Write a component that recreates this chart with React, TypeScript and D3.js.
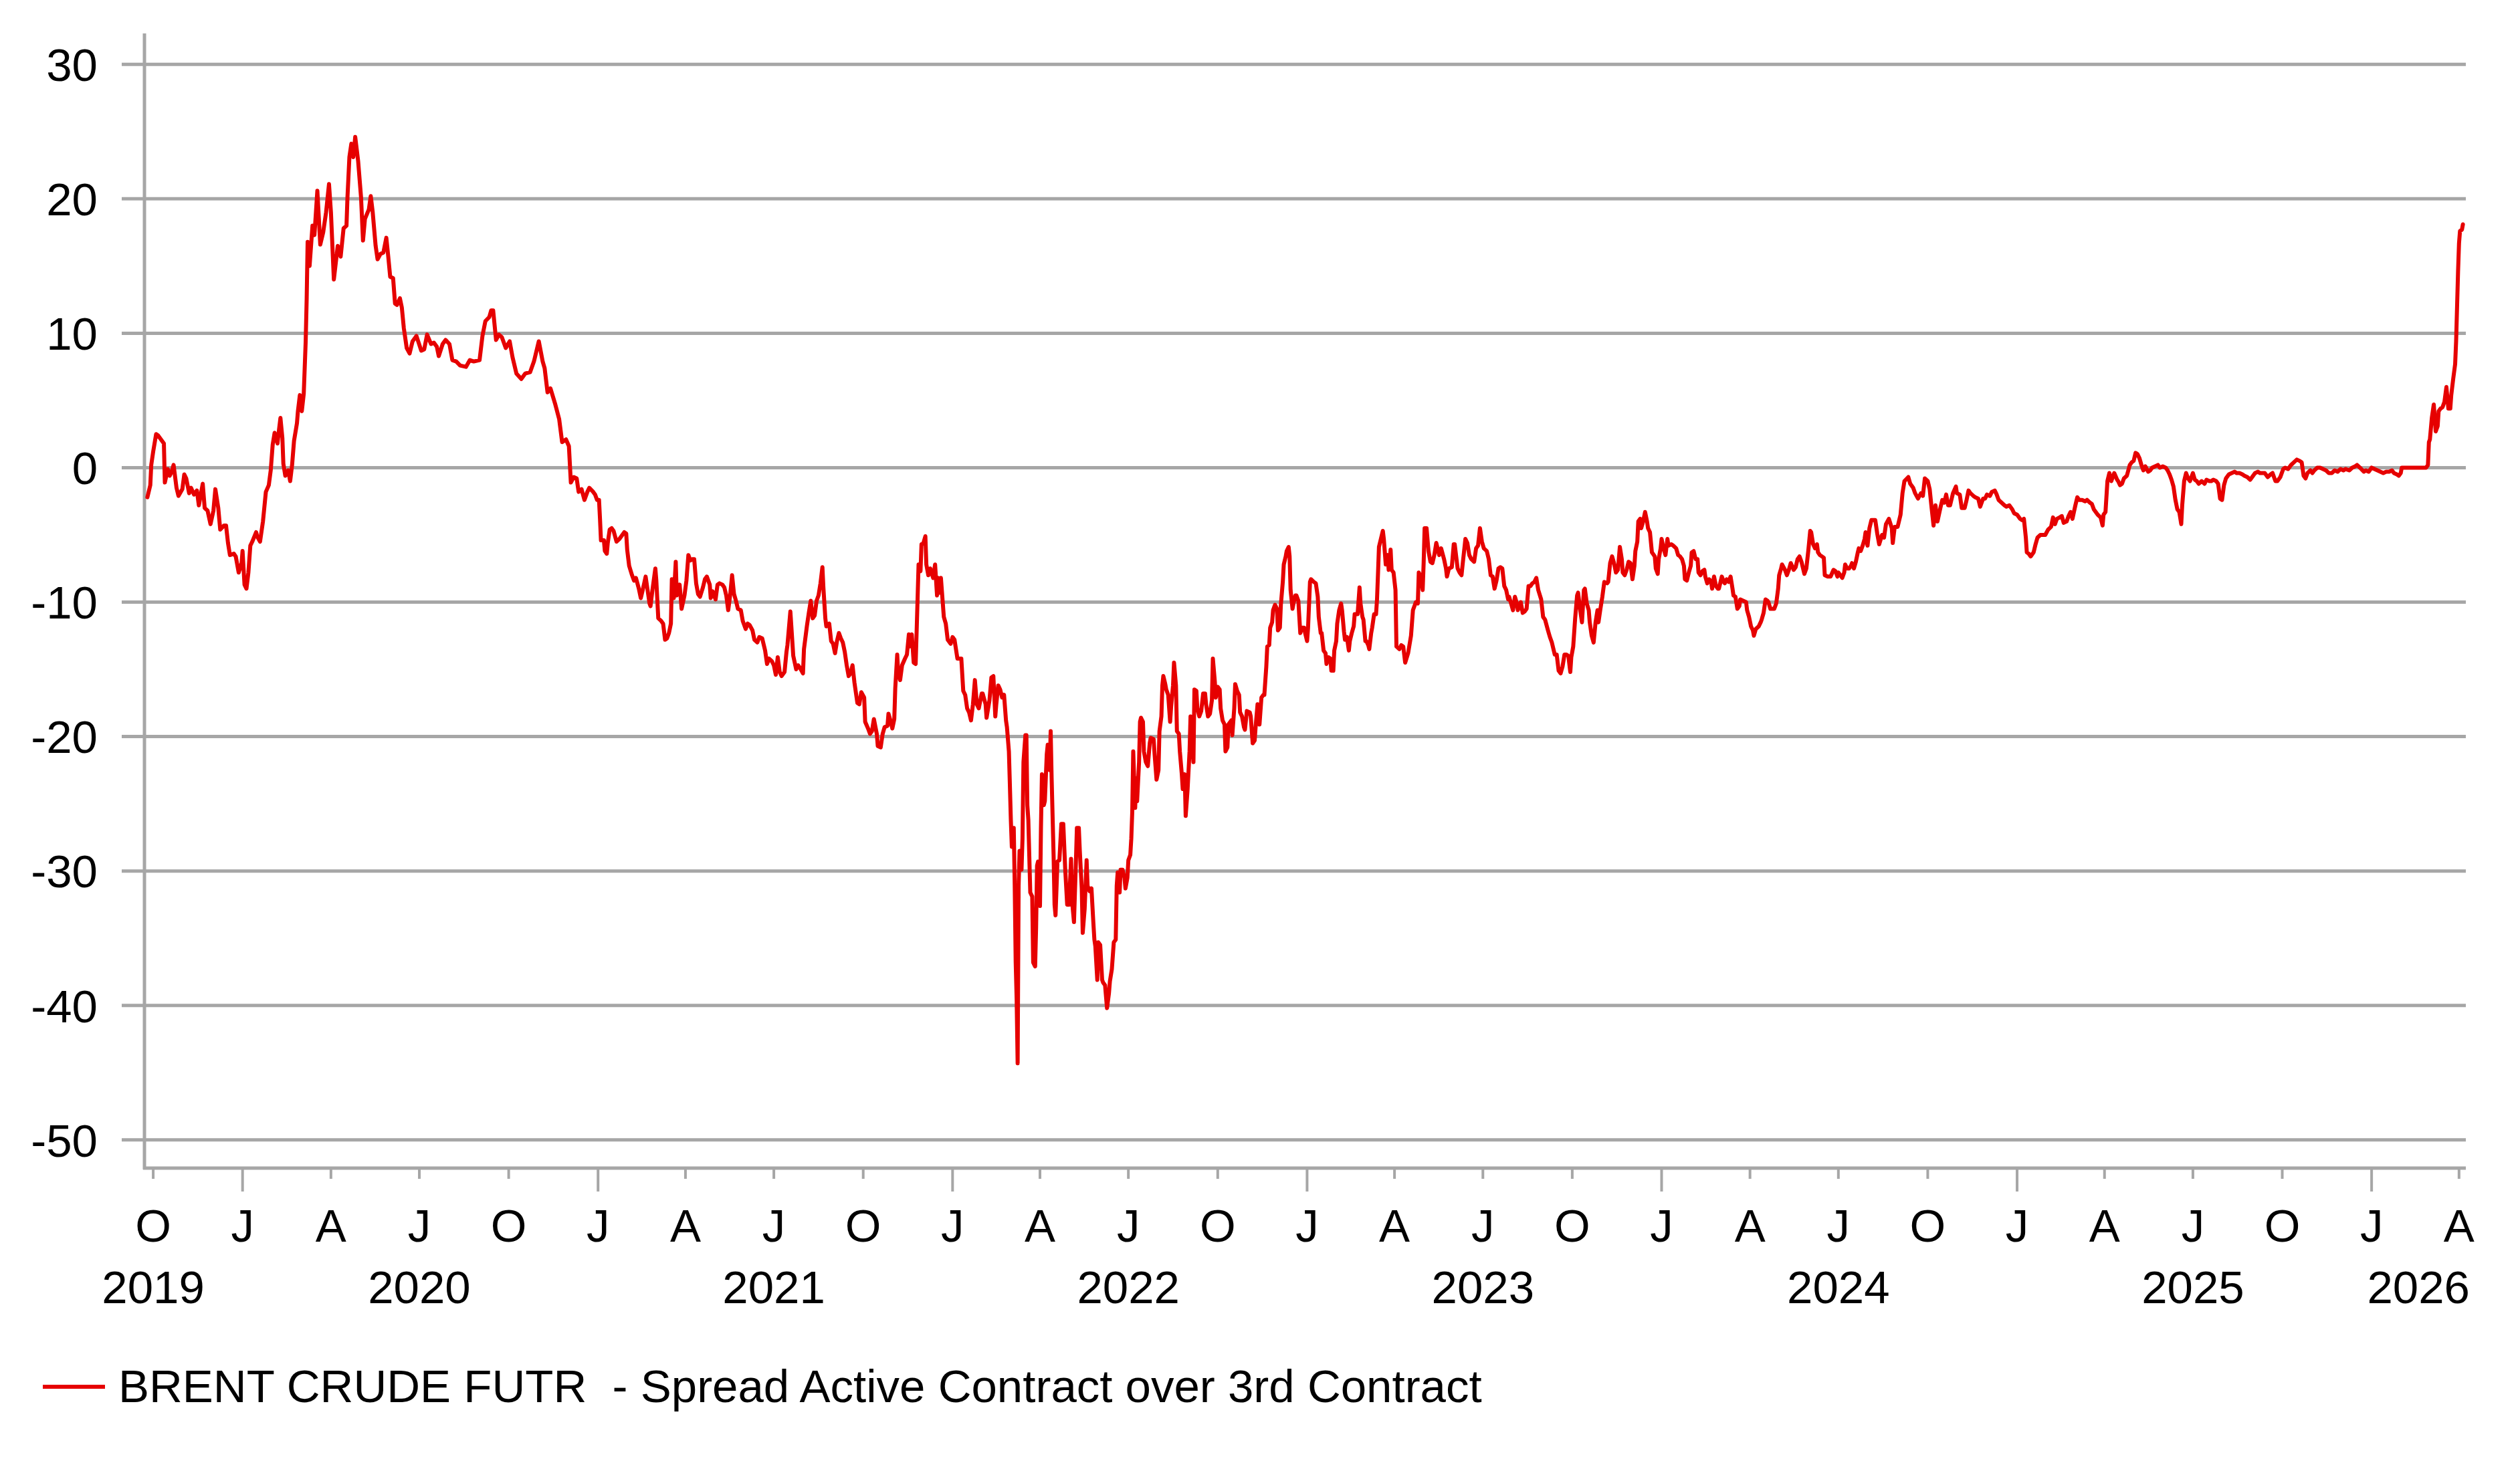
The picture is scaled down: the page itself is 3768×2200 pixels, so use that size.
import React from "react";
import * as d3 from "d3";

// ---- data ----
const xStart = "2019-09-22";
const xEnd = "2026-04-08";
const yMin = -52.1;
const yMax = 32.3;
const yTickValues = [-50, -40, -30, -20, -10, 0, 10, 20, 30];
const monthLetters = ["J", "F", "M", "A", "M", "J", "J", "A", "S", "O", "N", "D"];
const yearLabels = [2019, 2020, 2021, 2022, 2023, 2024, 2025, 2026];
const legendLabel = "BRENT CRUDE FUTR  - Spread Active Contract over 3rd Contract";

const spreadSeries: [string, number][] = [
["2019-09-25",-2.2],["2019-09-28",-1.3],["2019-09-29",0.2],["2019-10-01",1.2],["2019-10-04",2.5],["2019-10-06",2.4],["2019-10-10",2.0],["2019-10-12",1.8],["2019-10-13",-1.1],["2019-10-16",-0.1],["2019-10-18",-0.6],["2019-10-20",-0.3],["2019-10-22",0.2],["2019-10-25",-1.5],["2019-10-27",-2.1],["2019-10-31",-1.6],
["2019-11-02",-0.5],["2019-11-04",-0.8],["2019-11-07",-1.9],["2019-11-09",-1.5],["2019-11-12",-2.0],["2019-11-15",-1.7],["2019-11-17",-2.8],["2019-11-21",-1.2],["2019-11-23",-3.0],["2019-11-26",-3.2],["2019-11-29",-4.2],
["2019-12-02",-3.2],["2019-12-04",-1.6],["2019-12-07",-3.0],["2019-12-09",-4.6],["2019-12-13",-4.3],["2019-12-15",-4.3],["2019-12-17",-5.6],["2019-12-19",-6.5],["2019-12-23",-6.4],["2019-12-25",-6.6],["2019-12-28",-7.8],["2019-12-31",-7.1],
["2020-01-01",-6.2],["2020-01-03",-8.7],["2020-01-05",-9.0],["2020-01-07",-7.8],["2020-01-09",-5.8],["2020-01-11",-5.5],["2020-01-15",-4.8],["2020-01-16",-5.1],["2020-01-19",-5.5],["2020-01-22",-4.0],["2020-01-25",-1.8],["2020-01-28",-1.3],["2020-01-30",-0.2],
["2020-02-01",1.7],["2020-02-03",2.6],["2020-02-06",1.8],["2020-02-07",2.5],["2020-02-09",3.7],["2020-02-11",2.2],["2020-02-12",0.3],["2020-02-14",-0.6],["2020-02-17",-0.2],["2020-02-19",-1.0],["2020-02-21",0.2],["2020-02-23",2.0],["2020-02-26",3.3],["2020-02-27",4.2],["2020-02-29",5.4],
["2020-03-02",4.2],["2020-03-04",5.5],["2020-03-06",9.4],["2020-03-07",12.5],["2020-03-08",16.8],["2020-03-10",15.0],["2020-03-13",18.0],["2020-03-15",17.3],["2020-03-18",20.6],["2020-03-21",16.6],["2020-03-24",17.5],["2020-03-27",19.0],["2020-03-30",21.1],
["2020-04-01",19.0],["2020-04-04",14.0],["2020-04-08",16.5],["2020-04-11",15.7],["2020-04-14",17.8],["2020-04-17",18.0],["2020-04-18",20.1],["2020-04-20",23.1],["2020-04-22",24.1],["2020-04-24",23.1],["2020-04-26",24.6],["2020-04-29",22.8],
["2020-05-02",20.1],["2020-05-04",16.9],["2020-05-06",18.5],["2020-05-10",19.2],["2020-05-12",20.2],["2020-05-14",19.0],["2020-05-17",16.5],["2020-05-19",15.5],["2020-05-22",15.9],["2020-05-25",16.0],["2020-05-28",17.1],["2020-05-30",15.7],
["2020-06-01",14.2],["2020-06-04",14.1],["2020-06-06",12.2],["2020-06-08",12.1],["2020-06-11",12.6],["2020-06-13",11.9],["2020-06-15",10.4],["2020-06-18",8.9],["2020-06-21",8.5],["2020-06-24",9.4],["2020-06-28",9.8],
["2020-07-03",8.7],["2020-07-06",8.8],["2020-07-09",9.9],["2020-07-13",9.2],["2020-07-16",9.3],["2020-07-19",9.0],["2020-07-21",8.3],["2020-07-25",9.2],["2020-07-28",9.5],
["2020-08-01",9.2],["2020-08-04",8.0],["2020-08-08",7.9],["2020-08-12",7.6],["2020-08-18",7.5],["2020-08-22",8.0],["2020-08-26",7.9],
["2020-09-01",8.0],["2020-09-04",9.8],["2020-09-07",10.9],["2020-09-11",11.2],["2020-09-13",11.7],["2020-09-15",11.7],["2020-09-18",9.5],["2020-09-21",9.9],["2020-09-24",9.7],["2020-09-28",8.9],
["2020-10-02",9.4],["2020-10-05",8.2],["2020-10-09",7.0],["2020-10-14",6.6],["2020-10-18",7.0],["2020-10-23",7.1],["2020-10-27",7.9],
["2020-11-01",9.4],["2020-11-05",7.9],["2020-11-07",7.4],["2020-11-10",5.6],["2020-11-13",5.9],["2020-11-18",4.7],["2020-11-22",3.6],["2020-11-25",1.9],["2020-11-29",2.1],
["2020-12-02",1.6],["2020-12-04",-1.1],["2020-12-07",-0.7],["2020-12-10",-0.8],["2020-12-12",-1.8],["2020-12-15",-1.6],["2020-12-18",-2.4],["2020-12-21",-1.8],["2020-12-23",-1.5],["2020-12-27",-1.8],["2020-12-29",-2.0],["2020-12-31",-2.4],
["2021-01-02",-2.4],["2021-01-03",-3.8],["2021-01-04",-5.4],["2021-01-07",-5.4],["2021-01-08",-6.2],["2021-01-10",-6.4],["2021-01-11",-5.6],["2021-01-13",-4.6],["2021-01-15",-4.5],["2021-01-17",-4.7],["2021-01-20",-5.5],["2021-01-23",-5.3],["2021-01-25",-5.1],["2021-01-28",-4.8],["2021-01-30",-4.9],["2021-01-31",-6.1],
["2021-02-02",-7.3],["2021-02-05",-8.0],["2021-02-07",-8.4],["2021-02-09",-8.2],["2021-02-12",-9.0],["2021-02-14",-9.7],["2021-02-16",-9.1],["2021-02-19",-8.1],["2021-02-21",-9.1],["2021-02-23",-10.1],["2021-02-24",-10.3],["2021-02-26",-9.1],
["2021-03-01",-7.5],["2021-03-02",-8.4],["2021-03-04",-11.2],["2021-03-07",-11.4],["2021-03-09",-11.6],["2021-03-11",-12.8],["2021-03-13",-12.7],["2021-03-15",-12.3],["2021-03-17",-11.6],["2021-03-18",-8.3],["2021-03-20",-9.7],["2021-03-22",-7.0],["2021-03-23",-9.5],["2021-03-26",-8.7],["2021-03-28",-10.5],["2021-03-31",-9.5],
["2021-04-02",-8.4],["2021-04-04",-6.5],["2021-04-06",-6.9],["2021-04-08",-6.8],["2021-04-10",-6.8],["2021-04-12",-8.6],["2021-04-14",-9.4],["2021-04-16",-9.6],["2021-04-19",-8.9],["2021-04-21",-8.3],["2021-04-23",-8.1],["2021-04-26",-8.7],["2021-04-27",-9.7],["2021-04-29",-9.2],
["2021-05-02",-9.8],["2021-05-04",-8.7],["2021-05-06",-8.6],["2021-05-09",-8.7],["2021-05-11",-8.9],["2021-05-13",-9.5],["2021-05-15",-10.6],["2021-05-17",-9.5],["2021-05-19",-8.0],["2021-05-21",-9.4],["2021-05-23",-9.9],["2021-05-25",-10.5],["2021-05-28",-10.6],["2021-05-30",-11.4],
["2021-06-02",-12.0],["2021-06-04",-11.6],["2021-06-06",-11.7],["2021-06-09",-12.1],["2021-06-11",-12.8],["2021-06-14",-13.0],["2021-06-16",-12.6],["2021-06-19",-12.7],["2021-06-22",-13.6],["2021-06-24",-14.6],["2021-06-26",-14.2],["2021-06-29",-14.4],
["2021-07-01",-14.7],["2021-07-03",-15.4],["2021-07-05",-14.1],["2021-07-07",-15.2],["2021-07-09",-15.5],["2021-07-12",-15.2],["2021-07-14",-13.7],["2021-07-15",-13.2],["2021-07-18",-10.7],["2021-07-19",-11.8],["2021-07-21",-14.0],["2021-07-24",-15.0],["2021-07-26",-14.7],["2021-07-28",-14.9],["2021-07-31",-15.3],
["2021-08-01",-13.5],["2021-08-04",-11.8],["2021-08-06",-10.8],["2021-08-08",-9.9],["2021-08-10",-11.2],["2021-08-12",-11.0],["2021-08-14",-9.9],["2021-08-16",-9.5],["2021-08-18",-8.6],["2021-08-20",-7.4],["2021-08-21",-8.9],["2021-08-23",-11.2],["2021-08-24",-11.8],["2021-08-27",-11.6],["2021-08-29",-12.9],["2021-08-31",-13.1],
["2021-09-02",-13.8],["2021-09-04",-12.9],["2021-09-06",-12.3],["2021-09-08",-12.7],["2021-09-10",-13.0],["2021-09-12",-13.7],["2021-09-14",-14.7],["2021-09-16",-15.5],["2021-09-18",-15.3],["2021-09-20",-14.7],["2021-09-22",-16.0],["2021-09-25",-17.5],["2021-09-27",-17.6],["2021-09-29",-16.7],
["2021-10-02",-17.1],["2021-10-03",-18.9],["2021-10-06",-19.4],["2021-10-08",-19.8],["2021-10-10",-19.6],["2021-10-12",-18.7],["2021-10-15",-19.8],["2021-10-16",-20.7],["2021-10-19",-20.8],["2021-10-21",-19.8],["2021-10-23",-19.3],["2021-10-26",-19.2],["2021-10-27",-18.3],["2021-10-29",-18.8],["2021-10-31",-19.4],
["2021-11-02",-18.7],["2021-11-03",-16.4],["2021-11-05",-13.9],["2021-11-06",-15.2],["2021-11-08",-15.8],["2021-11-10",-14.7],["2021-11-13",-14.2],["2021-11-15",-13.9],["2021-11-17",-12.4],["2021-11-18",-13.3],["2021-11-20",-12.4],["2021-11-22",-14.5],["2021-11-24",-14.6],["2021-11-25",-12.2],["2021-11-27",-7.2],["2021-11-29",-7.7],["2021-11-30",-5.7],
["2021-12-02",-5.6],["2021-12-04",-5.1],["2021-12-05",-7.2],["2021-12-07",-8.0],["2021-12-09",-7.5],["2021-12-12",-8.2],["2021-12-14",-7.2],["2021-12-16",-9.5],["2021-12-17",-8.2],["2021-12-19",-9.3],["2021-12-20",-8.2],["2021-12-23",-11.1],["2021-12-25",-11.6],["2021-12-27",-12.8],["2021-12-30",-13.1],
["2022-01-01",-12.6],["2022-01-03",-12.8],["2022-01-06",-14.2],["2022-01-08",-14.2],["2022-01-10",-14.2],["2022-01-12",-16.6],["2022-01-14",-16.9],["2022-01-16",-17.9],["2022-01-18",-18.2],["2022-01-20",-18.8],["2022-01-22",-17.6],["2022-01-24",-15.8],["2022-01-26",-17.6],["2022-01-28",-17.9],["2022-01-31",-16.8],
["2022-02-01",-16.8],["2022-02-04",-17.6],["2022-02-05",-18.6],["2022-02-08",-17.3],["2022-02-10",-15.6],["2022-02-12",-15.5],["2022-02-14",-18.5],["2022-02-15",-17.6],["2022-02-17",-16.2],["2022-02-19",-16.5],["2022-02-21",-17.1],["2022-02-23",-16.9],["2022-02-25",-18.8],["2022-02-26",-19.3],["2022-02-28",-21.1],
["2022-03-01",-23.6],["2022-03-02",-26.2],["2022-03-03",-28.2],["2022-03-05",-26.8],["2022-03-06",-31.1],["2022-03-07",-36.8],["2022-03-08",-39.6],["2022-03-09",-44.3],["2022-03-10",-31.1],["2022-03-11",-28.5],["2022-03-13",-29.9],["2022-03-14",-27.6],["2022-03-15",-21.9],["2022-03-17",-19.9],["2022-03-18",-19.9],["2022-03-19",-25.1],["2022-03-20",-26.2],["2022-03-22",-31.6],["2022-03-24",-31.9],["2022-03-25",-36.8],["2022-03-27",-37.1],["2022-03-28",-34.2],["2022-03-29",-29.6],["2022-03-30",-29.3],
["2022-04-01",-32.6],["2022-04-02",-26.8],["2022-04-03",-22.8],["2022-04-05",-25.1],["2022-04-06",-24.8],["2022-04-08",-21.3],["2022-04-09",-20.6],["2022-04-11",-22.5],["2022-04-12",-19.6],["2022-04-13",-23.1],["2022-04-15",-28.8],["2022-04-16",-32.5],["2022-04-17",-33.3],["2022-04-19",-29.3],["2022-04-21",-29.2],["2022-04-23",-26.5],["2022-04-25",-26.5],["2022-04-27",-29.9],["2022-04-29",-32.5],
["2022-05-01",-32.5],["2022-05-03",-29.1],["2022-05-04",-32.2],["2022-05-06",-33.8],["2022-05-08",-29.3],["2022-05-09",-26.8],["2022-05-11",-26.8],["2022-05-12",-28.5],["2022-05-14",-31.3],["2022-05-15",-34.6],["2022-05-17",-32.8],["2022-05-19",-29.2],["2022-05-20",-31.1],["2022-05-22",-31.5],["2022-05-24",-31.3],["2022-05-26",-33.9],["2022-05-27",-35.1],["2022-05-28",-35.6],["2022-05-30",-38.1],["2022-05-31",-35.3],
["2022-06-02",-35.5],["2022-06-04",-38.1],["2022-06-05",-38.3],["2022-06-07",-38.5],["2022-06-09",-40.2],["2022-06-11",-39.1],["2022-06-12",-38.2],["2022-06-14",-37.3],["2022-06-16",-35.3],["2022-06-18",-35.1],["2022-06-19",-31.1],["2022-06-20",-30.1],["2022-06-22",-31.6],["2022-06-23",-29.9],["2022-06-25",-29.9],["2022-06-27",-30.5],["2022-06-28",-31.3],["2022-06-30",-30.5],
["2022-07-01",-29.2],["2022-07-03",-28.8],["2022-07-04",-27.6],["2022-07-05",-25.6],["2022-07-06",-21.1],["2022-07-08",-25.3],["2022-07-09",-23.1],["2022-07-10",-24.8],["2022-07-12",-21.9],["2022-07-13",-18.9],["2022-07-14",-18.6],["2022-07-16",-18.9],["2022-07-17",-21.1],["2022-07-19",-21.9],["2022-07-21",-22.2],["2022-07-23",-20.5],["2022-07-24",-20.1],["2022-07-27",-20.2],["2022-07-28",-21.3],["2022-07-30",-23.2],
["2022-08-01",-22.5],["2022-08-02",-19.6],["2022-08-04",-18.5],["2022-08-05",-16.2],["2022-08-06",-15.5],["2022-08-08",-16.1],["2022-08-09",-16.5],["2022-08-11",-16.9],["2022-08-13",-18.9],["2022-08-14",-17.8],["2022-08-16",-16.2],["2022-08-17",-14.5],["2022-08-19",-16.2],["2022-08-20",-19.6],["2022-08-22",-19.8],["2022-08-23",-21.1],["2022-08-25",-22.8],["2022-08-26",-23.9],["2022-08-28",-22.8],["2022-08-29",-25.9],["2022-08-31",-23.9],
["2022-09-02",-21.1],["2022-09-03",-18.5],["2022-09-05",-20.8],["2022-09-06",-21.9],["2022-09-07",-16.5],["2022-09-09",-16.6],["2022-09-10",-17.9],["2022-09-12",-18.5],["2022-09-14",-18.1],["2022-09-16",-16.8],["2022-09-18",-16.8],["2022-09-19",-17.6],["2022-09-21",-18.5],["2022-09-23",-18.3],["2022-09-25",-17.3],["2022-09-26",-14.2],["2022-09-28",-15.9],["2022-09-29",-17.1],
["2022-10-01",-16.3],["2022-10-03",-16.5],["2022-10-04",-17.9],["2022-10-06",-18.8],["2022-10-08",-19.1],["2022-10-09",-21.1],["2022-10-11",-20.8],["2022-10-12",-19.1],["2022-10-15",-18.8],["2022-10-16",-19.9],["2022-10-18",-17.9],["2022-10-19",-16.1],["2022-10-21",-16.6],["2022-10-23",-16.9],["2022-10-24",-18.2],["2022-10-26",-18.5],["2022-10-28",-19.3],["2022-10-29",-19.5],["2022-10-31",-18.1],
["2022-11-03",-18.2],["2022-11-04",-18.5],["2022-11-06",-20.5],["2022-11-08",-20.3],["2022-11-09",-19.3],["2022-11-11",-17.6],["2022-11-12",-17.8],["2022-11-13",-19.1],["2022-11-15",-17.1],["2022-11-17",-16.9],["2022-11-18",-16.9],["2022-11-20",-14.8],["2022-11-21",-13.3],["2022-11-23",-13.2],["2022-11-24",-11.9],["2022-11-26",-11.5],["2022-11-27",-10.6],["2022-11-29",-10.2],
["2022-12-01",-10.5],["2022-12-02",-12.1],["2022-12-04",-11.9],["2022-12-05",-10.2],["2022-12-07",-8.5],["2022-12-08",-7.2],["2022-12-10",-6.6],["2022-12-11",-6.2],["2022-12-13",-5.9],["2022-12-14",-6.6],["2022-12-15",-9.1],["2022-12-17",-10.5],["2022-12-18",-10.1],["2022-12-20",-9.5],["2022-12-21",-9.5],["2022-12-23",-9.9],["2022-12-24",-11.1],["2022-12-25",-12.3],["2022-12-27",-11.9],["2022-12-29",-11.9],["2022-12-30",-12.3],
["2023-01-01",-12.9],["2023-01-02",-11.9],["2023-01-04",-8.5],["2023-01-05",-8.3],["2023-01-08",-8.5],["2023-01-10",-8.6],["2023-01-12",-9.6],["2023-01-13",-11.1],["2023-01-15",-12.3],["2023-01-16",-12.3],["2023-01-18",-13.6],["2023-01-20",-13.8],["2023-01-21",-14.6],["2023-01-23",-14.1],["2023-01-25",-14.2],["2023-01-26",-15.1],["2023-01-28",-15.1],["2023-01-29",-13.6],["2023-01-31",-12.9],
["2023-02-01",-11.6],["2023-02-03",-10.6],["2023-02-05",-10.1],["2023-02-06",-10.6],["2023-02-08",-12.2],["2023-02-09",-12.8],["2023-02-11",-12.6],["2023-02-13",-13.6],["2023-02-14",-12.9],["2023-02-16",-12.3],["2023-02-18",-11.8],["2023-02-19",-10.9],["2023-02-22",-10.9],["2023-02-24",-8.9],["2023-02-25",-10.1],["2023-02-27",-11.1],["2023-02-28",-11.3],
["2023-03-02",-12.9],["2023-03-03",-12.9],["2023-03-05",-13.2],["2023-03-06",-13.5],["2023-03-08",-12.3],["2023-03-09",-11.9],["2023-03-11",-10.9],["2023-03-13",-10.9],["2023-03-14",-9.8],["2023-03-15",-7.9],["2023-03-16",-5.9],["2023-03-18",-5.3],["2023-03-20",-4.7],["2023-03-21",-5.3],["2023-03-23",-7.2],["2023-03-25",-6.5],["2023-03-26",-7.6],["2023-03-28",-6.1],["2023-03-29",-7.6],["2023-03-31",-7.8],
["2023-04-02",-9.1],["2023-04-03",-13.3],["2023-04-06",-13.5],["2023-04-08",-13.2],["2023-04-10",-13.3],["2023-04-12",-14.5],["2023-04-15",-13.8],["2023-04-18",-12.5],["2023-04-20",-10.6],["2023-04-23",-10.0],["2023-04-25",-10.1],["2023-04-26",-7.8],["2023-04-28",-8.1],["2023-04-30",-9.1],
["2023-05-01",-7.1],["2023-05-02",-4.5],["2023-05-04",-4.5],["2023-05-06",-6.2],["2023-05-08",-7.0],["2023-05-10",-7.1],["2023-05-12",-6.5],["2023-05-14",-5.6],["2023-05-17",-6.5],["2023-05-19",-6.0],["2023-05-22",-6.8],["2023-05-24",-7.5],["2023-05-25",-8.1],["2023-05-27",-7.5],["2023-05-30",-7.4],
["2023-06-01",-5.7],["2023-06-02",-5.7],["2023-06-05",-7.5],["2023-06-07",-7.8],["2023-06-09",-8.0],["2023-06-10",-7.3],["2023-06-13",-5.3],["2023-06-15",-5.6],["2023-06-17",-6.5],["2023-06-19",-6.8],["2023-06-22",-7.0],["2023-06-24",-6.0],["2023-06-26",-5.8],["2023-06-28",-4.5],["2023-06-30",-5.5],
["2023-07-02",-6.0],["2023-07-05",-6.2],["2023-07-07",-6.8],["2023-07-09",-8.0],["2023-07-11",-8.1],["2023-07-13",-9.0],["2023-07-15",-8.4],["2023-07-17",-7.5],["2023-07-19",-7.4],["2023-07-21",-7.5],["2023-07-23",-8.8],["2023-07-25",-9.1],["2023-07-27",-9.8],["2023-07-28",-9.6],["2023-07-30",-10.1],
["2023-08-01",-10.6],["2023-08-03",-9.6],["2023-08-05",-10.1],["2023-08-06",-10.6],["2023-08-09",-10.0],["2023-08-11",-10.8],["2023-08-13",-10.7],["2023-08-15",-10.5],["2023-08-17",-8.8],["2023-08-19",-8.8],["2023-08-21",-8.6],["2023-08-23",-8.5],["2023-08-25",-8.2],["2023-08-27",-9.1],["2023-08-30",-9.8],
["2023-09-01",-11.1],["2023-09-03",-11.3],["2023-09-06",-12.1],["2023-09-08",-12.6],["2023-09-10",-13.0],["2023-09-13",-13.9],["2023-09-15",-13.9],["2023-09-17",-15.1],["2023-09-19",-15.3],["2023-09-21",-14.8],["2023-09-23",-13.9],["2023-09-25",-13.9],["2023-09-27",-14.0],["2023-09-29",-15.2],["2023-09-30",-14.1],
["2023-10-02",-13.3],["2023-10-04",-11.2],["2023-10-06",-9.5],["2023-10-07",-9.3],["2023-10-09",-10.5],["2023-10-11",-11.5],["2023-10-13",-9.1],["2023-10-14",-9.0],["2023-10-16",-10.1],["2023-10-18",-10.6],["2023-10-19",-11.5],["2023-10-21",-12.5],["2023-10-23",-13.0],["2023-10-25",-11.5],["2023-10-27",-10.6],["2023-10-28",-11.5],["2023-10-30",-10.5],
["2023-11-01",-9.6],["2023-11-03",-8.5],["2023-11-06",-8.6],["2023-11-07",-8.5],["2023-11-09",-7.1],["2023-11-11",-6.6],["2023-11-13",-7.1],["2023-11-15",-7.8],["2023-11-17",-7.6],["2023-11-19",-5.9],["2023-11-21",-6.8],["2023-11-22",-7.8],["2023-11-24",-8.0],["2023-11-26",-7.6],["2023-11-28",-7.0],["2023-11-30",-7.1],
["2023-12-02",-8.3],["2023-12-04",-7.3],["2023-12-05",-6.2],["2023-12-07",-5.5],["2023-12-08",-4.0],["2023-12-10",-3.8],["2023-12-11",-4.5],["2023-12-13",-4.0],["2023-12-15",-3.3],["2023-12-17",-4.0],["2023-12-18",-4.5],["2023-12-20",-4.8],["2023-12-22",-6.3],["2023-12-25",-6.6],["2023-12-26",-7.5],["2023-12-28",-7.9],["2023-12-29",-6.8],["2023-12-31",-6.0],
["2024-01-01",-5.3],["2024-01-03",-6.0],["2024-01-05",-6.5],["2024-01-07",-5.3],["2024-01-08",-5.8],["2024-01-11",-5.7],["2024-01-13",-5.8],["2024-01-16",-6.0],["2024-01-18",-6.5],["2024-01-20",-6.6],["2024-01-22",-6.8],["2024-01-24",-7.3],["2024-01-25",-8.3],["2024-01-27",-8.4],["2024-01-29",-7.8],["2024-01-31",-7.3],
["2024-02-01",-6.3],["2024-02-03",-6.2],["2024-02-05",-6.8],["2024-02-07",-6.8],["2024-02-08",-7.8],["2024-02-10",-8.0],["2024-02-12",-7.7],["2024-02-14",-7.6],["2024-02-15",-8.1],["2024-02-17",-8.6],["2024-02-19",-8.3],["2024-02-21",-8.5],["2024-02-22",-9.0],["2024-02-24",-8.1],["2024-02-26",-8.8],["2024-02-28",-9.0],["2024-02-29",-9.0],
["2024-03-03",-8.1],["2024-03-05",-8.5],["2024-03-06",-8.6],["2024-03-08",-8.3],["2024-03-10",-8.5],["2024-03-12",-8.1],["2024-03-14",-9.0],["2024-03-15",-9.5],["2024-03-17",-9.6],["2024-03-19",-10.5],["2024-03-21",-10.3],["2024-03-22",-9.8],["2024-03-25",-9.9],["2024-03-28",-10.0],["2024-03-29",-10.6],["2024-03-31",-11.1],
["2024-04-02",-11.8],["2024-04-04",-12.1],["2024-04-05",-12.5],["2024-04-07",-12.0],["2024-04-10",-11.8],["2024-04-12",-11.5],["2024-04-13",-11.3],["2024-04-15",-10.8],["2024-04-17",-9.8],["2024-04-19",-9.9],["2024-04-20",-10.0],["2024-04-22",-10.5],["2024-04-24",-10.5],["2024-04-26",-10.5],["2024-04-28",-10.1],["2024-04-30",-9.0],
["2024-05-01",-8.0],["2024-05-03",-7.5],["2024-05-04",-7.2],["2024-05-07",-7.6],["2024-05-09",-8.0],["2024-05-11",-7.6],["2024-05-13",-7.1],["2024-05-16",-7.6],["2024-05-18",-7.4],["2024-05-20",-6.8],["2024-05-22",-6.6],["2024-05-24",-7.0],["2024-05-26",-7.6],["2024-05-27",-7.9],["2024-05-29",-7.5],["2024-05-31",-6.2],
["2024-06-02",-4.7],["2024-06-03",-4.8],["2024-06-05",-5.7],["2024-06-07",-6.0],["2024-06-09",-5.7],["2024-06-10",-6.3],["2024-06-12",-6.5],["2024-06-14",-6.6],["2024-06-16",-6.7],["2024-06-17",-8.0],["2024-06-20",-8.1],["2024-06-23",-8.1],["2024-06-26",-7.6],["2024-06-28",-7.7],["2024-06-30",-8.1],
["2024-07-01",-7.8],["2024-07-03",-8.0],["2024-07-05",-8.2],["2024-07-07",-7.8],["2024-07-08",-7.2],["2024-07-10",-7.5],["2024-07-12",-7.5],["2024-07-14",-7.3],["2024-07-15",-7.1],["2024-07-17",-7.5],["2024-07-19",-7.0],["2024-07-21",-6.3],["2024-07-22",-6.0],["2024-07-24",-6.2],["2024-07-26",-5.8],["2024-07-28",-5.3],["2024-07-29",-4.8],["2024-07-31",-5.8],
["2024-08-02",-4.5],["2024-08-04",-3.9],["2024-08-06",-3.9],["2024-08-08",-3.9],["2024-08-10",-4.9],["2024-08-12",-5.7],["2024-08-15",-5.0],["2024-08-17",-5.2],["2024-08-19",-4.2],["2024-08-22",-3.8],["2024-08-25",-4.5],["2024-08-26",-5.6],["2024-08-28",-4.4],["2024-08-31",-4.4],
["2024-09-03",-3.5],["2024-09-05",-1.9],["2024-09-07",-1.0],["2024-09-11",-0.7],["2024-09-13",-1.2],["2024-09-16",-1.5],["2024-09-18",-1.9],["2024-09-21",-2.3],["2024-09-24",-1.9],["2024-09-26",-2.1],["2024-09-28",-0.8],
["2024-10-01",-1.0],["2024-10-03",-1.6],["2024-10-05",-3.0],["2024-10-07",-4.3],["2024-10-09",-2.8],["2024-10-11",-4.0],["2024-10-14",-3.0],["2024-10-16",-2.4],["2024-10-18",-2.6],["2024-10-20",-2.0],["2024-10-22",-2.8],["2024-10-24",-2.8],["2024-10-27",-1.9],["2024-10-30",-1.4],["2024-10-31",-1.9],
["2024-11-03",-2.0],["2024-11-05",-3.0],["2024-11-08",-3.0],["2024-11-10",-2.4],["2024-11-12",-1.7],["2024-11-14",-1.9],["2024-11-17",-2.1],["2024-11-19",-2.2],["2024-11-22",-2.3],["2024-11-24",-2.9],["2024-11-27",-2.3],["2024-11-29",-2.3],
["2024-12-01",-2.0],["2024-12-04",-2.1],["2024-12-06",-1.8],["2024-12-09",-1.7],["2024-12-11",-2.0],["2024-12-13",-2.4],["2024-12-16",-2.6],["2024-12-19",-2.8],["2024-12-21",-2.9],["2024-12-24",-2.8],["2024-12-27",-3.1],["2024-12-29",-3.4],
["2025-01-01",-3.5],["2025-01-04",-3.8],["2025-01-06",-3.9],["2025-01-08",-3.8],["2025-01-10",-5.2],["2025-01-11",-6.3],["2025-01-13",-6.4],["2025-01-15",-6.6],["2025-01-18",-6.3],["2025-01-20",-5.7],["2025-01-22",-5.2],["2025-01-25",-5.0],["2025-01-28",-5.0],["2025-01-30",-5.0],
["2025-02-02",-4.6],["2025-02-05",-4.4],["2025-02-07",-3.7],["2025-02-09",-4.2],["2025-02-11",-3.8],["2025-02-14",-3.7],["2025-02-16",-3.6],["2025-02-18",-4.1],["2025-02-21",-4.0],["2025-02-23",-3.6],["2025-02-25",-3.3],["2025-02-27",-3.8],
["2025-03-02",-2.8],["2025-03-04",-2.2],["2025-03-06",-2.4],["2025-03-09",-2.4],["2025-03-12",-2.5],["2025-03-14",-2.4],["2025-03-17",-2.6],["2025-03-19",-2.7],["2025-03-21",-3.1],["2025-03-23",-3.3],["2025-03-25",-3.5],["2025-03-28",-3.7],["2025-03-30",-4.3],["2025-03-31",-3.5],
["2025-04-02",-3.3],["2025-04-04",-1.0],["2025-04-06",-0.4],["2025-04-08",-1.0],["2025-04-11",-0.4],["2025-04-14",-0.9],["2025-04-15",-1.0],["2025-04-17",-1.3],["2025-04-19",-1.2],["2025-04-21",-0.8],["2025-04-24",-0.6],["2025-04-27",0.2],["2025-04-29",0.4],
["2025-05-01",0.5],["2025-05-03",1.1],["2025-05-05",1.0],["2025-05-07",0.7],["2025-05-09",0.2],["2025-05-11",-0.2],["2025-05-13",0.1],["2025-05-16",-0.3],["2025-05-18",-0.2],["2025-05-20",0.0],["2025-05-23",0.1],["2025-05-26",0.2],["2025-05-28",0.0],["2025-05-31",0.1],
["2025-06-03",0.0],["2025-06-05",-0.2],["2025-06-07",-0.5],["2025-06-09",-0.9],["2025-06-11",-1.4],["2025-06-13",-2.4],["2025-06-15",-3.1],["2025-06-17",-3.3],["2025-06-19",-4.2],["2025-06-20",-2.8],["2025-06-22",-1.0],["2025-06-24",-0.4],["2025-06-26",-0.8],["2025-06-28",-1.0],
["2025-07-01",-0.4],["2025-07-03",-0.9],["2025-07-05",-1.0],["2025-07-07",-1.2],["2025-07-10",-1.0],["2025-07-13",-1.2],["2025-07-15",-0.9],["2025-07-18",-1.0],["2025-07-20",-1.0],["2025-07-22",-0.9],["2025-07-25",-1.0],["2025-07-27",-1.2],["2025-07-29",-2.3],["2025-07-31",-2.4],
["2025-08-02",-1.3],["2025-08-04",-0.8],["2025-08-07",-0.5],["2025-08-10",-0.4],["2025-08-13",-0.3],["2025-08-15",-0.4],["2025-08-18",-0.4],["2025-08-21",-0.5],["2025-08-23",-0.6],["2025-08-26",-0.7],["2025-08-29",-0.9],["2025-08-31",-0.7],
["2025-09-03",-0.4],["2025-09-06",-0.3],["2025-09-08",-0.4],["2025-09-11",-0.4],["2025-09-13",-0.4],["2025-09-16",-0.7],["2025-09-19",-0.5],["2025-09-21",-0.4],["2025-09-24",-1.0],["2025-09-26",-1.0],["2025-09-29",-0.7],
["2025-10-02",-0.1],["2025-10-04",0.0],["2025-10-07",-0.1],["2025-10-10",0.2],["2025-10-13",0.4],["2025-10-16",0.6],["2025-10-19",0.5],["2025-10-21",0.4],["2025-10-23",-0.6],["2025-10-25",-0.8],["2025-10-27",-0.4],["2025-10-30",-0.2],
["2025-11-01",-0.4],["2025-11-03",-0.2],["2025-11-06",0.0],["2025-11-09",0.0],["2025-11-12",-0.1],["2025-11-15",-0.2],["2025-11-18",-0.4],["2025-11-21",-0.4],["2025-11-24",-0.2],["2025-11-27",-0.3],["2025-11-30",-0.1],
["2025-12-03",-0.2],["2025-12-05",-0.1],["2025-12-09",-0.2],["2025-12-12",0.0],["2025-12-15",0.1],["2025-12-17",0.2],["2025-12-20",0.0],["2025-12-24",-0.3],["2025-12-26",-0.2],["2025-12-29",-0.3],
["2026-01-01",0.0],["2026-01-04",-0.1],["2026-01-07",-0.2],["2026-01-10",-0.3],["2026-01-13",-0.4],["2026-01-16",-0.3],["2026-01-19",-0.3],["2026-01-22",-0.2],["2026-01-24",-0.4],["2026-01-27",-0.5],["2026-01-29",-0.6],["2026-01-31",-0.4],
["2026-02-01",0.0],["2026-02-10",0.0],["2026-02-18",0.0],["2026-02-26",0.0],["2026-02-28",0.2],
["2026-03-01",1.9],["2026-03-02",2.1],["2026-03-04",3.7],["2026-03-06",4.7],["2026-03-08",2.7],["2026-03-10",3.1],["2026-03-11",4.2],["2026-03-13",4.4],["2026-03-15",4.5],["2026-03-17",4.9],["2026-03-19",6.0],["2026-03-21",4.4],["2026-03-23",4.4],["2026-03-24",5.4],["2026-03-26",6.6],["2026-03-28",7.7],["2026-03-29",9.4],["2026-03-30",12.0],["2026-03-31",14.6],
["2026-04-01",16.7],["2026-04-02",17.6],["2026-04-04",17.7],["2026-04-05",18.1]
];

// ---- layout / style ----
const W = 3768;
const H = 2200;
const plotLeft = 216;
const plotRight = 3687;
const plotTop = 50;
const plotBottom = 1747;
const gridLeft = 182;
const gridColor = "#A6A6A6";
const lineColor = "#E60000";
const font = "'Liberation Sans', Arial, Helvetica, sans-serif";
const fontSize = 69;

export default function App() {
  const parse = d3.timeParse("%Y-%m-%d");
  const data = spreadSeries.map(([d, v]) => ({ date: parse(d) as Date, value: v }));

  const x = d3.scaleTime().domain([parse(xStart) as Date, parse(xEnd) as Date]).range([plotLeft, plotRight]);
  const y = d3.scaleLinear().domain([yMin, yMax]).range([plotBottom, plotTop]);

  const path = d3
    .line<{ date: Date; value: number }>()
    .x((d) => x(d.date))
    .y((d) => y(d.value))(data) as string;

  const quarterTicks = d3.timeMonth.every(3)!.range(x.domain()[0], x.domain()[1]);

  const yearPos = yearLabels.map((yr, i) => {
    if (i === 0) {
      return { yr, x: x(quarterTicks[0]), anchor: "middle" };
    }
    if (i === yearLabels.length - 1) {
      return { yr, x: plotRight + 6, anchor: "end" };
    }
    return { yr, x: x(new Date(yr, 6, 1)), anchor: "middle" };
  });

  return (
    <div style={{ position: "absolute", left: 0, top: 0, width: W, height: H, background: "#fff" }}>
      <svg width={W} height={H} viewBox={`0 0 ${W} ${H}`} style={{ display: "block" }} fontFamily={font}>
        <rect x={0} y={0} width={W} height={H} fill="#fff" />
        {yTickValues.map((v) => (
          <line key={"g" + v} x1={gridLeft} x2={plotRight} y1={y(v)} y2={y(v)} stroke={gridColor} strokeWidth={5} />
        ))}
        <line x1={plotLeft} x2={plotLeft} y1={plotTop} y2={plotBottom + 2} stroke={gridColor} strokeWidth={5} />
        <line x1={plotLeft - 2} x2={plotRight} y1={plotBottom} y2={plotBottom} stroke={gridColor} strokeWidth={5} />
        {quarterTicks.map((t) => (
          <line
            key={"t" + t.getTime()}
            x1={x(t)}
            x2={x(t)}
            y1={plotBottom}
            y2={t.getMonth() === 0 ? plotBottom + 35 : plotBottom + 16}
            stroke={gridColor}
            strokeWidth={4}
          />
        ))}
        {yTickValues.map((v) => (
          <text key={"yl" + v} x={146} y={y(v)} dy="0.36em" textAnchor="end" fontSize={fontSize} fill="#000">
            {String(v)}
          </text>
        ))}
        {quarterTicks.map((t) => (
          <text key={"m" + t.getTime()} x={x(t)} y={1857} textAnchor="middle" fontSize={fontSize} fill="#000">
            {monthLetters[t.getMonth()]}
          </text>
        ))}
        {yearPos.map((p) => (
          <text key={"y" + p.yr} x={p.x} y={1949} textAnchor={p.anchor as any} fontSize={fontSize} fill="#000">
            {String(p.yr)}
          </text>
        ))}
        <path d={path} fill="none" stroke={lineColor} strokeWidth={6} strokeLinejoin="round" strokeLinecap="round" />
        <line x1={64} x2={157} y1={2074} y2={2074} stroke={lineColor} strokeWidth={6} />
        <text x={177} y={2097} fontSize={fontSize} fill="#000" style={{ whiteSpace: "pre" }}>
          {legendLabel}
        </text>
      </svg>
    </div>
  );
}
